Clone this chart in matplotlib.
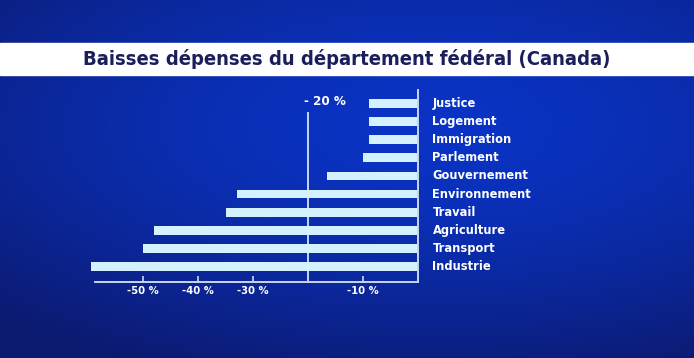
import matplotlib.pyplot as plt
import numpy as np
from matplotlib.patches import Rectangle

# data (percent change in spending)
departments = ['Justice', 'Logement', 'Immigration', 'Parlement', 'Gouvernement',
               'Environnement', 'Travail', 'Agriculture', 'Transport', 'Industrie']
cuts = [-9, -9, -9, -10, -16.5, -33, -35, -48, -50, -59.5]
tick_vals = [-50, -40, -30, -10]
tick_labels = ['-50 %', '-40 %', '-30 %', '-10 %']
ref_val = -20
ref_label = '- 20 %'
title = 'Baisses dépenses du département fédéral (Canada)'

W, H = 694, 358
fnt = dict(family='DejaVu Sans', fontstretch='condensed', fontweight='bold')
bar_col = '#d4f1ff'
line_col = '#c9d6ef'

fig = plt.figure(figsize=(W / 100, H / 100), dpi=100)

# background: dark blue gradient
bg = fig.add_axes([0, 0, 1, 1])
yy, xx = np.mgrid[0:1:200j, 0:1:400j]
d = np.sqrt(((xx - 0.62) * 1.0) ** 2 + ((yy - 0.35) * 1.2) ** 2)
t = np.clip(d / 0.9, 0, 1) ** 1.5
c0 = np.array([0x0a, 0x34, 0xc6]) / 255
c1 = np.array([0x0c, 0x1a, 0x70]) / 255
img = c0[None, None, :] * (1 - t[..., None]) + c1[None, None, :] * t[..., None]
bg.imshow(img, extent=[0, 1, 0, 1], aspect='auto', origin='upper')
bg.set_xlim(0, 1)
bg.set_ylim(0, 1)
bg.axis('off')

# white title band
bg.add_patch(Rectangle((0, 1 - 75 / H), 1, 32 / H, color='white', zorder=2))
bg.text(0.5, 1 - 59 / H, title, ha='center', va='center', color='#1a1f5c',
        fontsize=14.5, zorder=3, **fnt)

# chart axes: zero at x=418px, 10 % = 55px
x0, x1 = -62, 2
left = 418 + x0 * 5.5
ax = fig.add_axes([left / W, 76 / H, (x1 - x0) * 5.5 / W, 192 / H])
ax.patch.set_alpha(0)
y = np.arange(len(departments))
ax.barh(y, cuts, height=0.47, color=bar_col, zorder=3)
ax.set_xlim(x0, x1)
ax.set_ylim(9.84, -0.73)

for s in ['top', 'right']:
    ax.spines[s].set_visible(False)
ax.spines['bottom'].set_bounds(-58.8, 0)
ax.spines['bottom'].set_color(line_col)
ax.spines['bottom'].set_linewidth(1.4)
ax.spines['left'].set_position(('data', 0))
ax.spines['left'].set_color(line_col)
ax.spines['left'].set_linewidth(1.4)
ax.spines['left'].set_zorder(4)

ax.axvline(ref_val, ymin=0, ymax=0.88, color=line_col, lw=1.4, zorder=2)
ax.text(ref_val + 3, -0.12, ref_label, ha='center', va='center', color='white',
        fontsize=9.5, **fnt)

ax.set_xticks(tick_vals)
ax.set_xticklabels(tick_labels, **fnt)
ax.tick_params(axis='x', direction='in', length=4.5, width=1.2, color=line_col,
               labelcolor='white', labelsize=8, pad=3)

ax.set_yticks(y - 0.08)
ax.set_yticklabels(departments, **fnt)
ax.yaxis.tick_right()
ax.tick_params(axis='y', length=0, pad=2.5, labelcolor='white', labelsize=9.2)

fig.savefig('out.png', dpi=100)
